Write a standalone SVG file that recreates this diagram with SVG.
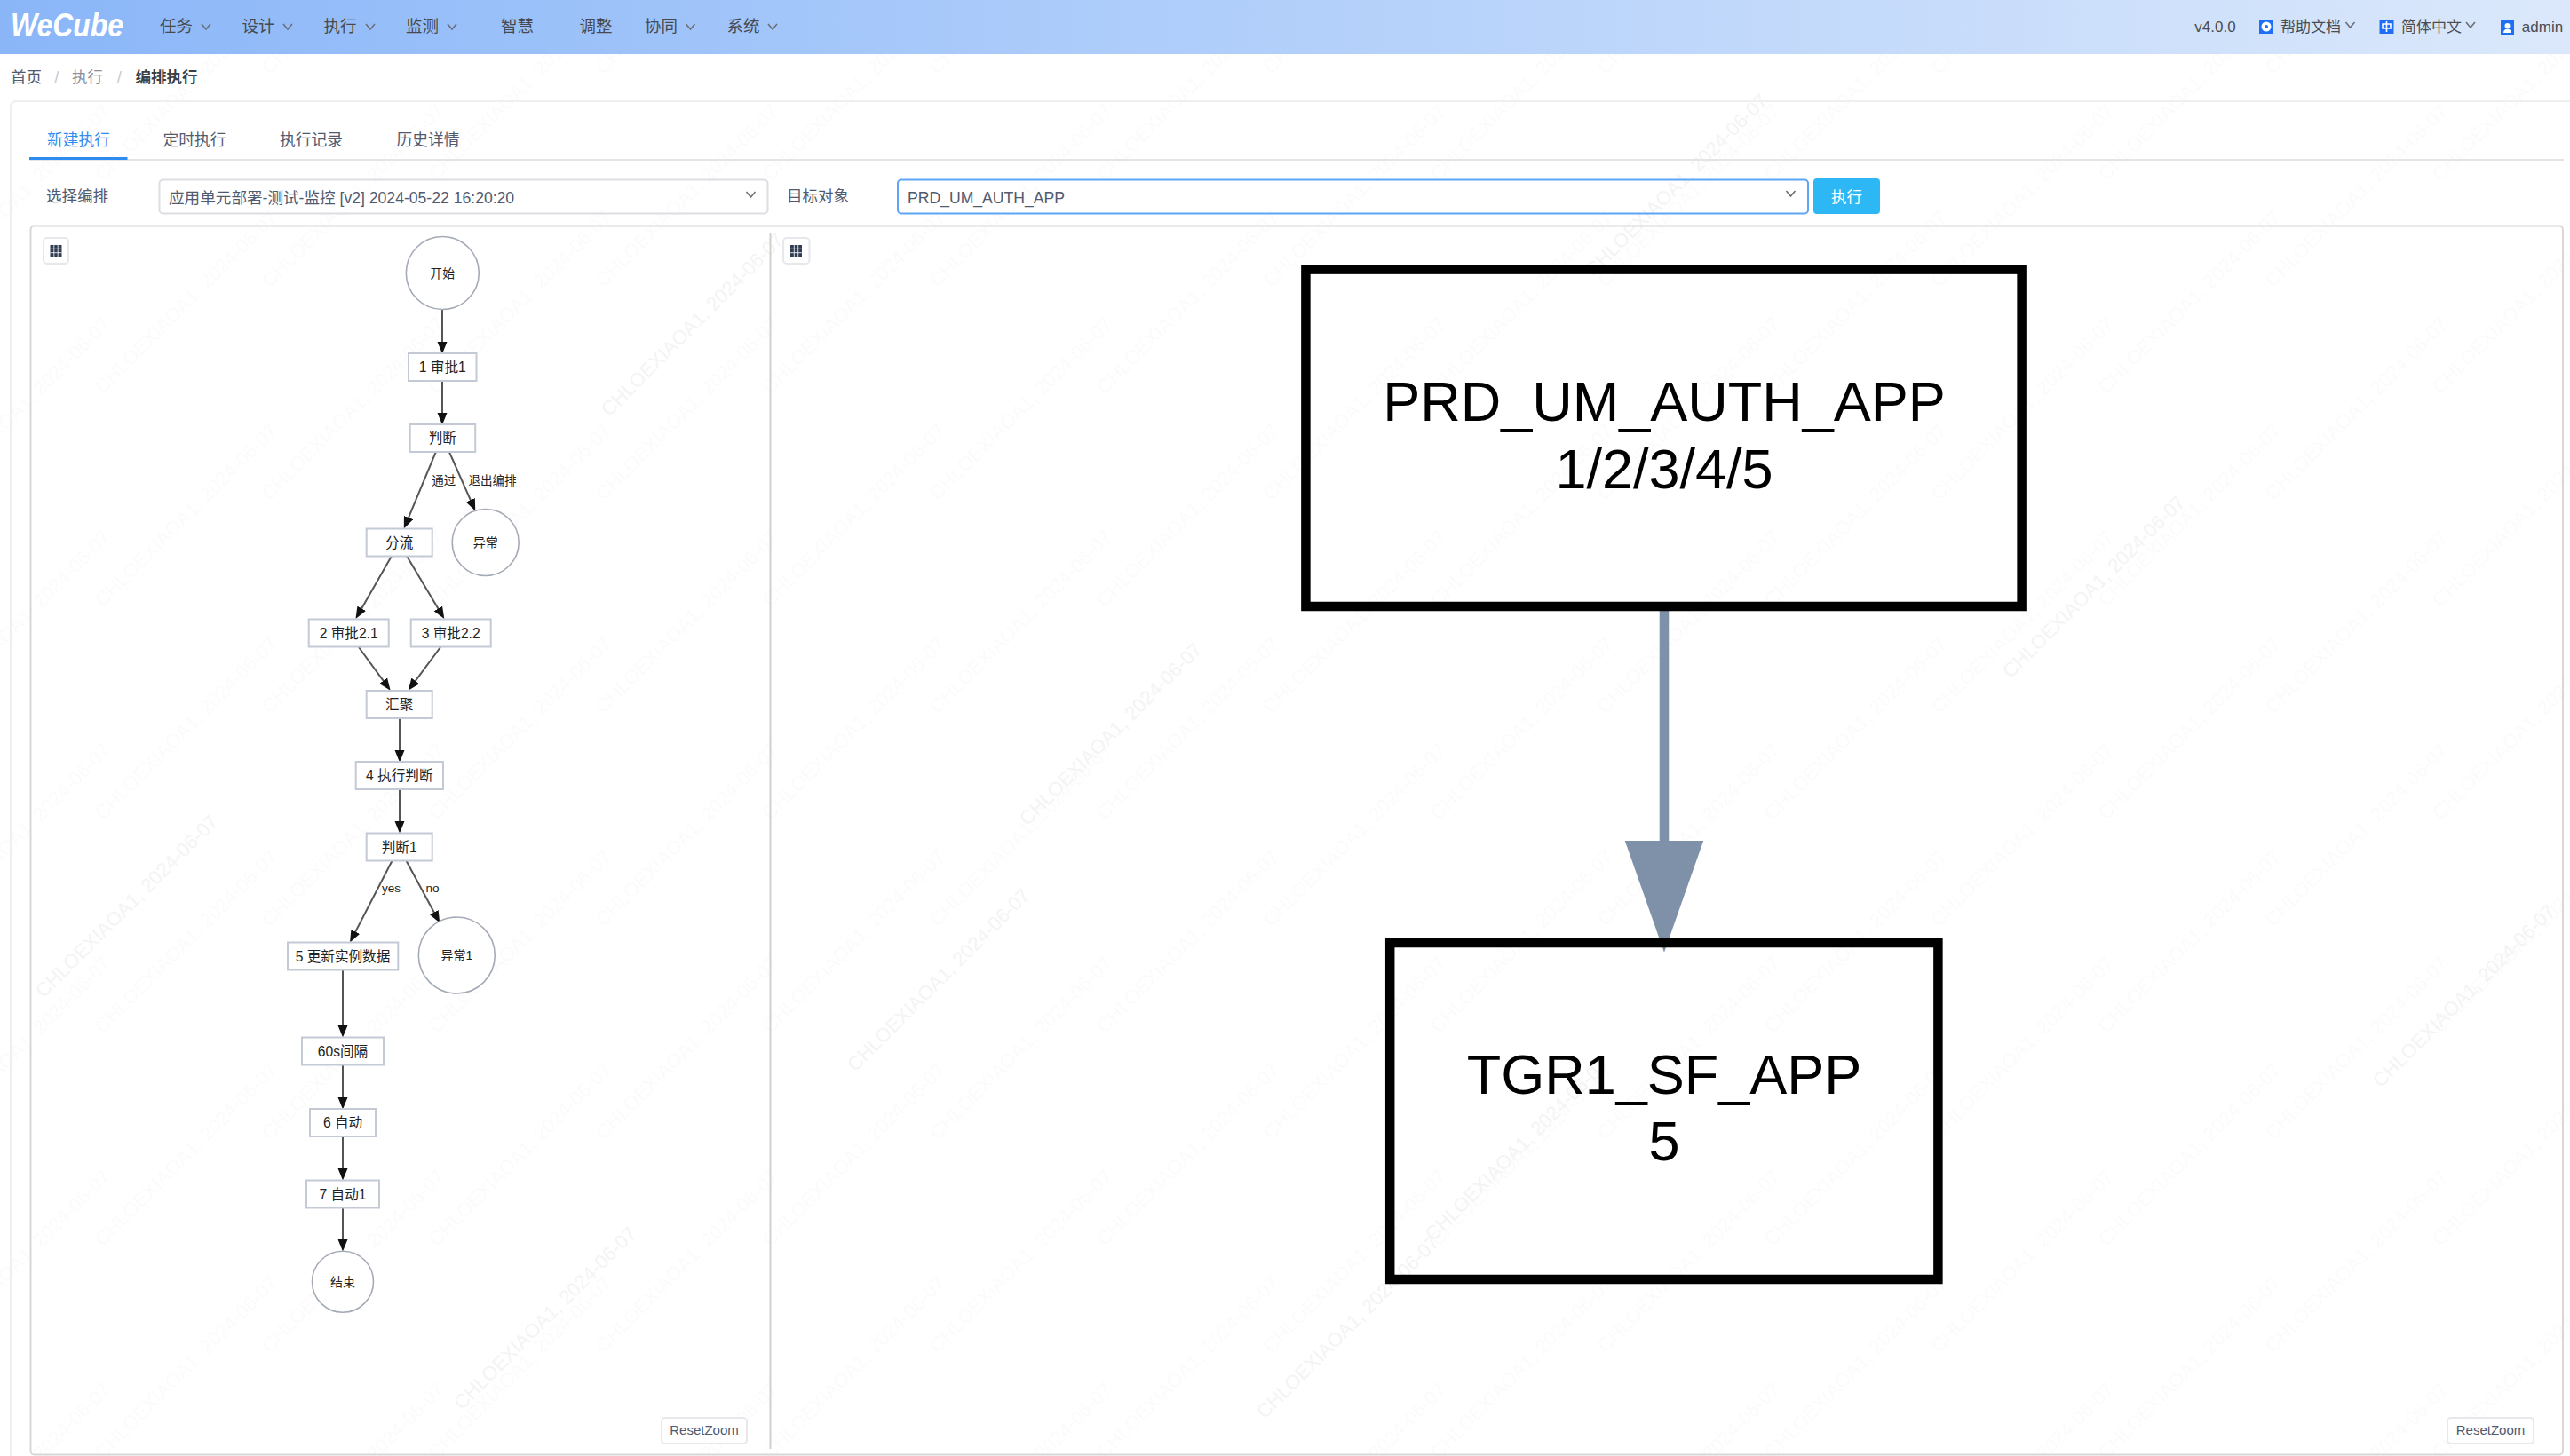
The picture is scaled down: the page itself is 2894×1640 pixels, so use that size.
<svg xmlns="http://www.w3.org/2000/svg" width="2894" height="1640" viewBox="0 0 2894 1640">
<style>
text{font-family:"Liberation Sans","Noto Sans CJK SC",sans-serif}
.nav{font-size:18.5px;fill:#46494f;text-anchor:middle}
.top{font-size:17px;fill:#4a4d52;text-anchor:middle}
.bc{font-size:17.5px;text-anchor:middle}
.tab{font-size:17.8px;fill:#515a6e;text-anchor:middle}
.lbl{font-size:17.5px;fill:#515a6e;text-anchor:middle}
.val{font-size:17.6px;fill:#515a6e}
.chev{fill:none;stroke:#6a6f78;stroke-width:1.6}
.sel{fill:none;stroke:#dcdee2;stroke-width:2}
.btn{fill:#fff;stroke:#e6e8ec;stroke-width:2}
.grid{fill:#2f3c52}
.rz{font-size:15px;fill:#515a6e;text-anchor:middle}
.box{fill:#fff;stroke:#c3cad5;stroke-width:2}
.circ{fill:#fff;stroke:#a4abb6;stroke-width:1.6}
.t{font-size:15.6px;fill:#222;text-anchor:middle}
.tc{font-size:14px;fill:#222;text-anchor:middle}
.el{font-size:13.5px;fill:#222;text-anchor:middle}
.edge{fill:none;stroke:#555;stroke-width:2;marker-end:url(#ah)}
.big{fill:none;stroke:#000;stroke-width:10.5}
.bt{font-size:63px;fill:#000;text-anchor:middle}
.wm{font-size:22px;fill:#fbfbfb;text-anchor:middle}
.wm2{font-size:22px;fill:#f4f4f4;text-anchor:middle}
</style>
<defs>
<linearGradient id="navg" x1="0" x2="1" y1="0" y2="0"><stop offset="0" stop-color="#8ab6f8"/><stop offset=".35" stop-color="#a6c8fa"/><stop offset="1" stop-color="#dbe8fb"/></linearGradient>
<marker id="ah" markerUnits="userSpaceOnUse" markerWidth="15" markerHeight="12" refX="3" refY="6" orient="auto"><path d="M0 .5L13.5 6L0 11.5z" fill="#111"/></marker>
<marker id="bh" markerUnits="userSpaceOnUse" markerWidth="127" markerHeight="89" refX="3" refY="44.2" orient="auto"><path d="M0 0L125.7 44.2L0 88.4z" fill="#7f90a9"/></marker>
<path id="chv" class="chev" d="M-5 -3L0 3L5 -3"/>
<g id="gi"><rect x="-6.5" y="-6.5" width="13" height="13" class="grid"/><path d="M-2.2 -6.5V6.5M2.2 -6.5V6.5M-6.5 -2.2H6.5M-6.5 2.2H6.5" stroke="#fff" stroke-width=".8"/></g>
<pattern id="wmp" patternUnits="userSpaceOnUse" width="376" height="240" patternTransform="translate(209,100)">
<text class="wm" transform="translate(0,0) rotate(-45)" y="8">CHLOEXIAOA1, 2024-06-07</text>
<text class="wm" transform="translate(376,0) rotate(-45)" y="8">CHLOEXIAOA1, 2024-06-07</text>
<text class="wm" transform="translate(0,240) rotate(-45)" y="8">CHLOEXIAOA1, 2024-06-07</text>
<text class="wm" transform="translate(376,240) rotate(-45)" y="8">CHLOEXIAOA1, 2024-06-07</text>
<text class="wm" transform="translate(188,120) rotate(-45)" y="8">CHLOEXIAOA1, 2024-06-07</text>
</pattern>
</defs>
<rect width="2894" height="1640" fill="#fff"/>
<rect y="61" width="2894" height="1579" fill="url(#wmp)"/>
<g id="watermarks">
<text class="wm2" transform="translate(785,371) rotate(-45)">CHLOEXIAOA1, 2024-06-07</text>
<text class="wm2" transform="translate(1893,214) rotate(-45)">CHLOEXIAOA1, 2024-06-07</text>
<text class="wm2" transform="translate(1256,832) rotate(-45)">CHLOEXIAOA1, 2024-06-07</text>
<text class="wm2" transform="translate(2363,666) rotate(-45)">CHLOEXIAOA1, 2024-06-07</text>
<text class="wm2" transform="translate(148,1026) rotate(-45)">CHLOEXIAOA1, 2024-06-07</text>
<text class="wm2" transform="translate(1713,1300) rotate(-45)">CHLOEXIAOA1, 2024-06-07</text>
<text class="wm2" transform="translate(2780,1127) rotate(-45)">CHLOEXIAOA1, 2024-06-07</text>
<text class="wm2" transform="translate(619,1490) rotate(-45)">CHLOEXIAOA1, 2024-06-07</text>
<text class="wm2" transform="translate(1062,1109) rotate(-45)">CHLOEXIAOA1, 2024-06-07</text>
<text class="wm2" transform="translate(1523,1500) rotate(-45)">CHLOEXIAOA1, 2024-06-07</text>
</g>

<g id="navbar">
<rect width="2894" height="61" fill="url(#navg)"/>
<text x="12" y="41" font-size="37" font-weight="700" font-style="italic" fill="#fff" textLength="127" lengthAdjust="spacingAndGlyphs">WeCube</text>
<text class="nav" x="198.5" y="35.5">任务</text><use href="#chv" x="232" y="30"/>
<text class="nav" x="291" y="35.5">设计</text><use href="#chv" x="324" y="30"/>
<text class="nav" x="383" y="35.5">执行</text><use href="#chv" x="417" y="30"/>
<text class="nav" x="475.5" y="35.5">监测</text><use href="#chv" x="509" y="30"/>
<text class="nav" x="582.5" y="35.5">智慧</text>
<text class="nav" x="671" y="35.5">调整</text>
<text class="nav" x="744.5" y="35.5">协同</text><use href="#chv" x="777.5" y="30"/>
<text class="nav" x="837" y="35.5">系统</text><use href="#chv" x="870" y="30"/>
<text class="top" x="2494.5" y="36">v4.0.0</text>
<rect x="2544" y="22" width="16" height="16" fill="#1e6ff5"/><circle cx="2552" cy="30" r="5.5" fill="#fff"/><circle cx="2552" cy="30" r="2" fill="#1e6ff5"/>
<text class="top" x="2602" y="36">帮助文档</text><use href="#chv" x="2646.5" y="28"/>
<rect x="2679.5" y="22" width="16" height="16" fill="#1e6ff5"/><path d="M2683 27h9v5h-9zM2687.5 24v12" fill="none" stroke="#fff" stroke-width="1.6"/>
<text class="top" x="2738" y="36">简体中文</text><use href="#chv" x="2782" y="28"/>
<rect x="2816" y="23" width="15" height="16" fill="#1e6ff5"/><circle cx="2823.5" cy="29" r="3" fill="#fff"/><path d="M2819 37c0-6 9-6 9 0z" fill="#fff"/>
<text class="top" x="2863" y="36">admin</text>
</g>

<g id="breadcrumb">
<text class="bc" x="29.5" y="93" fill="#515a6e">首页</text>
<text class="bc" x="64" y="93" fill="#c5c8ce">/</text>
<text class="bc" x="98.5" y="93" fill="#8a8f99">执行</text>
<text class="bc" x="134.5" y="93" fill="#c5c8ce">/</text>
<text class="bc" x="187.5" y="93" fill="#3b3f46" font-weight="700">编排执行</text>
</g>

<g id="panel">
<path d="M12 1640V120a6 6 0 0 1 6-6H2894" fill="none" stroke="#eeeff1" stroke-width="2"/>
<path d="M33 180H2887" stroke="#e2e4e8" stroke-width="2"/>
<path d="M33 178.5H143.5" stroke="#2d8cf0" stroke-width="3"/>
<text class="tab" x="88.5" y="163.5" style="fill:#2d8cf0">新建执行</text>
<text class="tab" x="219" y="163.5">定时执行</text>
<text class="tab" x="350.5" y="163.5">执行记录</text>
<text class="tab" x="482" y="163.5">历史详情</text>
<text class="lbl" x="87" y="226.5">选择编排</text>
<rect class="sel" x="179.5" y="202.5" width="685" height="38" rx="4"/>
<text class="val" x="190" y="229">应用单元部署-测试-监控 [v2] 2024-05-22 16:20:20</text>
<use href="#chv" x="845.5" y="219"/>
<text class="lbl" x="921" y="227">目标对象</text>
<rect x="1011" y="202.5" width="1025" height="38" rx="4" fill="none" stroke="#5ea6f5" stroke-width="2"/>
<text class="val" x="1022" y="228.5">PRD_UM_AUTH_APP</text>
<use href="#chv" x="2016.5" y="218"/>
<rect x="2042" y="201" width="75" height="40" rx="4" fill="#2db7f5"/>
<text x="2079.5" y="228" font-size="17.5" fill="#fff" text-anchor="middle">执行</text>
<rect x="34.5" y="254.5" width="2851.5" height="1384" rx="4" fill="none" stroke="#d9d6d6" stroke-width="2"/>
<path d="M867.5 262V1632" stroke="#d2cfcf" stroke-width="2"/>
<rect class="btn" x="49" y="268" width="28" height="29" rx="4"/><use href="#gi" x="63" y="282.5"/>
<rect class="btn" x="882" y="268" width="29.5" height="29" rx="4"/><use href="#gi" x="896.5" y="282.5"/>
<rect class="btn" x="745" y="1597" width="96" height="29" rx="4"/><text class="rz" x="793" y="1615.5">ResetZoom</text>
<rect class="btn" x="2756" y="1597" width="97" height="29" rx="4"/><text class="rz" x="2804.5" y="1615.5">ResetZoom</text>
</g>

<g id="connectors">
<path class="edge" d="M498 349V388"/>
<path class="edge" d="M498 429V468"/>
<path class="edge" d="M490.7 509.3L458.85 585.8"/>
<path class="edge" d="M506 509.3L531 565.9"/>
<path class="edge" d="M440.7 626.7L405.7 688"/>
<path class="edge" d="M458.3 626.7L494.9 688.1"/>
<path class="edge" d="M404 729L433.4 769.2"/>
<path class="edge" d="M496 729L466 769.3"/>
<path class="edge" d="M450 809V848"/>
<path class="edge" d="M450 889V928"/>
<path class="edge" d="M441.3 970L398.9 1052.1"/>
<path class="edge" d="M457.7 970L490.2 1030.2"/>
<path class="edge" d="M386 1092V1158"/>
<path class="edge" d="M386 1200V1239"/>
<path class="edge" d="M386 1280V1319"/>
<path class="edge" d="M386 1361V1399"/>
<text class="el" x="499.7" y="545.5">通过</text>
<text class="el" x="554.5" y="545.5">退出编排</text>
<text class="el" x="440.5" y="1005">yes</text>
<text class="el" x="487" y="1005">no</text>
<path d="M1874 684V950" fill="none" stroke="#7f90a9" stroke-width="10.5" marker-end="url(#bh)"/>
</g>

<g id="n-start"><circle class="circ" cx="498.3" cy="307.5" r="41"/><text class="tc" x="498.3" y="312.5">开始</text></g>
<g id="n-1"><rect class="box" x="460" y="398" width="76.5" height="31"/><text class="t" x="498.3" y="419">1 审批1</text></g>
<g id="n-judge"><rect class="box" x="461.7" y="478" width="73.5" height="31"/><text class="t" x="498.3" y="499">判断</text></g>
<g id="n-split"><rect class="box" x="412.7" y="595.5" width="74" height="31"/><text class="t" x="449.7" y="616.5">分流</text></g>
<g id="n-err"><circle class="circ" cx="546.7" cy="611" r="37.5"/><text class="tc" x="546.7" y="616">异常</text></g>
<g id="n-2"><rect class="box" x="347.7" y="697.5" width="90" height="31"/><text class="t" x="392.7" y="718.5">2 审批2.1</text></g>
<g id="n-3"><rect class="box" x="462.7" y="697.5" width="90" height="31"/><text class="t" x="507.7" y="718.5">3 审批2.2</text></g>
<g id="n-merge"><rect class="box" x="412.7" y="778" width="74" height="31"/><text class="t" x="449.7" y="799">汇聚</text></g>
<g id="n-4"><rect class="box" x="400.7" y="858" width="98.3" height="31"/><text class="t" x="449.8" y="879">4 执行判断</text></g>
<g id="n-judge1"><rect class="box" x="412.7" y="938.5" width="74" height="31"/><text class="t" x="449.7" y="959.5">判断1</text></g>
<g id="n-5"><rect class="box" x="324" y="1061.5" width="124.3" height="31"/><text class="t" x="386" y="1082.5">5 更新实例数据</text></g>
<g id="n-err1"><circle class="circ" cx="514.3" cy="1076" r="43"/><text class="tc" x="514.3" y="1081">异常1</text></g>
<g id="n-60s"><rect class="box" x="340" y="1168.5" width="92" height="31"/><text class="t" x="386" y="1189.5">60s间隔</text></g>
<g id="n-6"><rect class="box" x="349" y="1249" width="74" height="31"/><text class="t" x="386" y="1270">6 自动</text></g>
<g id="n-7"><rect class="box" x="345" y="1329.5" width="82" height="31"/><text class="t" x="386" y="1350.5">7 自动1</text></g>
<g id="n-end"><circle class="circ" cx="386" cy="1443.7" r="34.5"/><text class="tc" x="386" y="1448.7">结束</text></g>

<g id="n-prd"><rect class="big" x="1470.4" y="303.6" width="806.2" height="379.4"/><text class="bt" x="1874" y="474">PRD_UM_AUTH_APP</text><text class="bt" x="1874" y="549.5">1/2/3/4/5</text></g>
<g id="n-tgr"><rect class="big" x="1565.2" y="1062" width="617.2" height="379"/><text class="bt" x="1874" y="1231.7">TGR1_SF_APP</text><text class="bt" x="1874" y="1307">5</text></g>
</svg>
